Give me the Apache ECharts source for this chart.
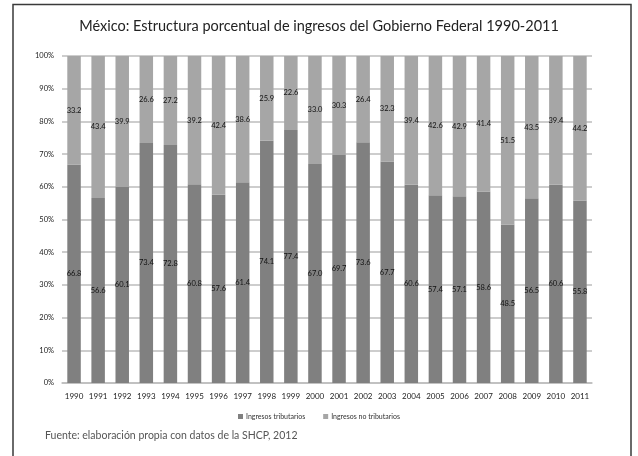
<!DOCTYPE html>
<html>
<head>
<meta charset="utf-8">
<script src="https://cdn.jsdelivr.net/npm/echarts@6/dist/echarts.min.js"></script>
<style>html,body{margin:0;padding:0;background:#fff}#c{width:638px;height:456px}</style>
</head>
<body>
<div id="c"></div>
<script>
const years = ['1990','1991','1992','1993','1994','1995','1996','1997','1998','1999','2000','2001','2002','2003','2004','2005','2006','2007','2008','2009','2010','2011'];
const tributarios = [66.8,56.6,60.1,73.4,72.8,60.8,57.6,61.4,74.1,77.4,67.0,69.7,73.6,67.7,60.6,57.4,57.1,58.6,48.5,56.5,60.6,55.8];
const noTributarios = [33.2,43.4,39.9,26.6,27.2,39.2,42.4,38.6,25.9,22.6,33.0,30.3,26.4,32.3,39.4,42.6,42.9,41.4,51.5,43.5,39.4,44.2];
const seriesNames = ['Ingresos tributarios','Ingresos no tributarios'];
const titleText = 'México: Estructura porcentual de ingresos del Gobierno Federal 1990-2011';
const sourceText = 'Fuente: elaboración propia con datos de la SHCP, 2012';

const FONT = 'Lato, "DejaVu Sans", sans-serif';
const chart = echarts.init(document.getElementById('c'), null, {renderer:'canvas'});
const lbl = {show:true, position:'inside', color:'#111', fontSize:7.5, fontFamily:FONT, formatter: p => p.value.toFixed(1)};
chart.setOption({
  animation:false,
  backgroundColor:'#fff',
  title:{text:titleText, left:'center', top:14, textStyle:{fontFamily:FONT, fontSize:14.5, fontWeight:'normal', color:'#222'}},
  grid:{left:62, right:46, top:56, bottom:73},
  legend:{data:seriesNames, top:408, left:'center', itemWidth:5, itemHeight:5, itemGap:18, icon:'rect',
    textStyle:{fontFamily:FONT, fontSize:7, color:'#333', padding:[0,0,0,-2]}},
  xAxis:{type:'category', data:years, axisTick:{show:false}, axisLine:{lineStyle:{color:'#bdbdbd', width:1.5}},
    axisLabel:{interval:0, fontFamily:FONT, fontSize:8, color:'#222', margin:9}},
  yAxis:{type:'value', min:0, max:100, interval:10, axisLine:{show:false}, axisTick:{show:false},
    axisLabel:{formatter:'{value}%', fontFamily:FONT, fontSize:7.5, color:'#222', margin:8},
    splitLine:{lineStyle:{color:'#bdbdbd', width:1.5}}},
  series:[
    {name:seriesNames[0], type:'bar', stack:'t', data:tributarios, barCategoryGap:'44%', itemStyle:{color:'#808080'}, label:lbl},
    {name:seriesNames[1], type:'bar', stack:'t', data:noTributarios, barCategoryGap:'44%', itemStyle:{color:'#a6a6a6'}, label:lbl}
  ],
  graphic:[
    {type:'polyline', shape:{points:[[13,460],[13,4.5],[631,4.5],[631,460]]}, style:{stroke:'#3a3a3a', lineWidth:1.5, fill:null}},
    {type:'text', left:45, top:430, style:{text:sourceText, font:'10.5px '+FONT, fill:'#555'}}
  ]
});
</script>
</body>
</html>
